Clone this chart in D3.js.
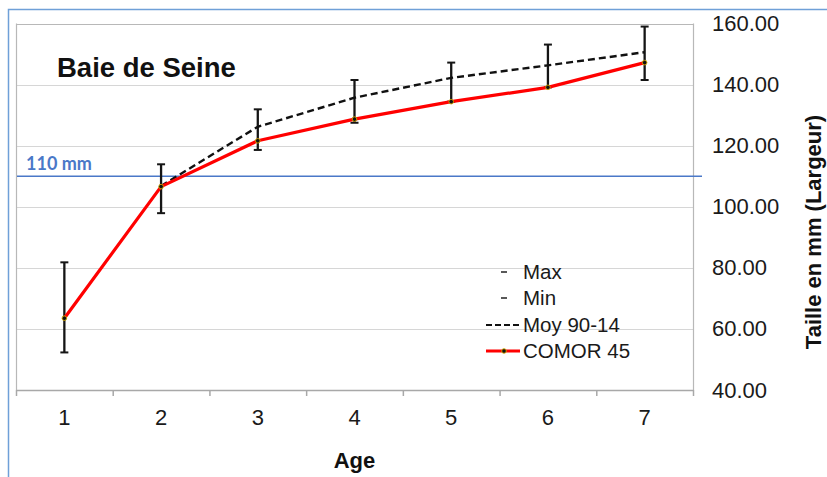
<!DOCTYPE html>
<html>
<head>
<meta charset="utf-8">
<script src="https://cdn.jsdelivr.net/npm/d3@7"></script>
<style>
  body { margin: 0; background: #fff; }
  text { font-family: "Liberation Sans", Arial, sans-serif; }
</style>
</head>
<body>
<script>
// data
const AGES = ["1", "2", "3", "4", "5", "6", "7"];
const COMOR = [63.5, 106.6, 121.6, 128.7, 134.4, 139.1, 147.2];
const MOY = [null, 106.8, 126.2, 135.7, 142.2, 146.3, 150.6];
const MAX = [81.8, 113.9, 131.9, 141.5, 147.2, 153.1, 159.0];
const MIN = [52.3, 97.9, 118.6, 127.5, 134.4, 139.1, 141.5];
const Y_TICKS = [40, 60, 80, 100, 120, 140, 160];
const SEUIL = 110;
const LEGEND = ["Max", "Min", "Moy 90-14", "COMOR 45"];

var W = 827, H = 477;
var pLeft = 16, pRight = 693, pTop = 23.5, pBottom = 390;

var svg = d3.select("body").append("svg")
    .attr("width", W)
    .attr("height", H);

// outer blue frame (cropped on right and bottom)
svg.append("path")
    .attr("d", "M8.5," + H + " L8.5,9.5 L" + W + ",9.5")
    .attr("fill", "none")
    .attr("stroke", "#6fa0d8")
    .attr("stroke-width", 1.5);

var x = d3.scaleBand()
    .domain(AGES)
    .range([pLeft, pRight])
    .padding(0);

var y = d3.scaleLinear()
    .domain([40, 160])
    .range([pBottom, pTop]);

var cx = d => x(d) + x.bandwidth() / 2;

// gridlines
svg.append("g")
    .selectAll("line")
    .data(Y_TICKS.slice(1))
    .enter().append("line")
    .attr("x1", pLeft).attr("x2", pRight)
    .attr("y1", d => Math.round(y(d)) + 0.5)
    .attr("y2", d => Math.round(y(d)) + 0.5)
    .attr("stroke", d => d === 160 ? "#b8b8b8" : "#d6d6d6")
    .attr("stroke-width", 1.2);

// plot side borders
svg.append("line")
    .attr("x1", pLeft + 0.5).attr("x2", pLeft + 0.5)
    .attr("y1", y(160)).attr("y2", pBottom)
    .attr("stroke", "#b8b8b8").attr("stroke-width", 1.2);
svg.append("line")
    .attr("x1", pRight + 0.5).attr("x2", pRight + 0.5)
    .attr("y1", y(160)).attr("y2", pBottom)
    .attr("stroke", "#b8b8b8").attr("stroke-width", 1.2);

// x axis
var xAxis = svg.append("g")
    .attr("transform", "translate(0," + pBottom + ")")
    .call(d3.axisBottom(x).tickSize(0).tickPadding(19));
xAxis.select(".domain").attr("stroke", "#a8a8a8").attr("stroke-width", 1.5);
xAxis.selectAll("text")
    .style("font-size", "22px")
    .style("font-family", "Liberation Sans, Arial, sans-serif")
    .attr("fill", "#1a1a1a");

// tick marks at band edges
svg.append("g")
    .selectAll("line")
    .data(AGES.concat(["end"]))
    .enter().append("line")
    .attr("x1", d => (d === "end" ? pRight : x(d)) + 0.5)
    .attr("x2", d => (d === "end" ? pRight : x(d)) + 0.5)
    .attr("y1", pBottom).attr("y2", pBottom + 6)
    .attr("stroke", "#a8a8a8").attr("stroke-width", 1.5);

// y axis labels on the right
var yAxis = svg.append("g")
    .attr("transform", "translate(" + pRight + ",0)")
    .call(d3.axisRight(y).tickValues(Y_TICKS).tickFormat(d3.format(".2f")).tickSize(0).tickPadding(19));
yAxis.select(".domain").remove();
yAxis.selectAll("text")
    .style("font-size", "22px")
    .style("font-family", "Liberation Sans, Arial, sans-serif")
    .attr("fill", "#1a1a1a");

// axis titles
svg.append("text")
    .attr("x", (pLeft + pRight) / 2)
    .attr("y", 468)
    .attr("text-anchor", "middle")
    .style("font-size", "22px")
    .style("font-weight", "bold")
    .attr("fill", "#111")
    .text("Age");

svg.append("text")
    .attr("transform", "translate(821,232) rotate(-90)")
    .attr("text-anchor", "middle")
    .style("font-size", "22px")
    .style("font-weight", "bold")
    .attr("fill", "#111")
    .text("Taille en mm (Largeur)");

// chart title
svg.append("text")
    .attr("x", 57)
    .attr("y", 77)
    .style("font-size", "27.5px")
    .style("font-weight", "bold")
    .attr("fill", "#111")
    .text("Baie de Seine");

// 110 mm threshold
svg.append("line")
    .attr("x1", 17).attr("x2", 702)
    .attr("y1", y(SEUIL)).attr("y2", y(SEUIL))
    .attr("stroke", "#4a78c8")
    .attr("stroke-width", 1.5);
svg.append("text")
    .attr("x", 26)
    .attr("y", 170)
    .style("font-family", "Lato, 'Open Sans', sans-serif")
    .style("font-size", "18px")
    .style("font-weight", "bold")
    .attr("fill", "#4a78c8")
    .text("110 mm");

// min-max bars
var bars = AGES.map((a, i) => ({age: a, max: MAX[i], min: MIN[i]}));
svg.append("g")
    .selectAll("line")
    .data(bars)
    .enter().append("line")
    .attr("x1", d => cx(d.age)).attr("x2", d => cx(d.age))
    .attr("y1", d => y(d.max)).attr("y2", d => y(d.min))
    .attr("stroke", "#151515")
    .attr("stroke-width", 2.3);

// caps = Max / Min markers
[MAX, MIN].forEach(serie => {
    svg.append("g")
        .selectAll("line")
        .data(AGES)
        .enter().append("line")
        .attr("x1", d => cx(d) - 4).attr("x2", d => cx(d) + 4)
        .attr("y1", (d, i) => y(serie[i])).attr("y2", (d, i) => y(serie[i]))
        .attr("stroke", "#151515")
        .attr("stroke-width", 2);
});

// Moy 90-14 dashed
var line = d3.line()
    .defined(d => d[1] !== null)
    .x(d => cx(d[0]))
    .y(d => y(d[1]));

svg.append("path")
    .datum(AGES.map((a, i) => [a, MOY[i]]))
    .attr("d", line)
    .attr("fill", "none")
    .attr("stroke", "#111")
    .attr("stroke-width", 2.4)
    .attr("stroke-dasharray", "7,4");

// COMOR 45 red
svg.append("path")
    .datum(AGES.map((a, i) => [a, COMOR[i]]))
    .attr("d", line)
    .attr("fill", "none")
    .attr("stroke", "#ff0000")
    .attr("stroke-width", 3.2)
    .attr("stroke-linejoin", "round");

svg.append("g")
    .selectAll("circle")
    .data(AGES)
    .enter().append("circle")
    .attr("cx", d => cx(d))
    .attr("cy", (d, i) => y(COMOR[i]))
    .attr("r", 2.3)
    .attr("fill", "#111")
    .attr("stroke", "#d2a800")
    .attr("stroke-width", 0.9);

// legend
var lg = svg.append("g").attr("transform", "translate(486,0)");
var rowY = [272, 298, 325, 351];
LEGEND.forEach((name, i) => {
    var yy = rowY[i];
    if (i < 2) {
        lg.append("line")
            .attr("x1", 15).attr("x2", 21)
            .attr("y1", yy).attr("y2", yy)
            .attr("stroke", "#222").attr("stroke-width", 1.5);
    } else if (i === 2) {
        lg.append("line")
            .attr("x1", 0).attr("x2", 34)
            .attr("y1", yy).attr("y2", yy)
            .attr("stroke", "#111").attr("stroke-width", 1.8)
            .attr("stroke-dasharray", "6,3");
    } else {
        lg.append("line")
            .attr("x1", 0).attr("x2", 34)
            .attr("y1", yy).attr("y2", yy)
            .attr("stroke", "#ff0000").attr("stroke-width", 3.2);
        lg.append("circle")
            .attr("cx", 18).attr("cy", yy).attr("r", 2.3)
            .attr("fill", "#111").attr("stroke", "#d2a800").attr("stroke-width", 0.9);
    }
    lg.append("text")
        .attr("x", 37)
        .attr("y", yy + 7)
        .style("font-size", "20.5px")
        .attr("fill", "#1a1a1a")
        .text(name);
});
</script>
</body>
</html>
